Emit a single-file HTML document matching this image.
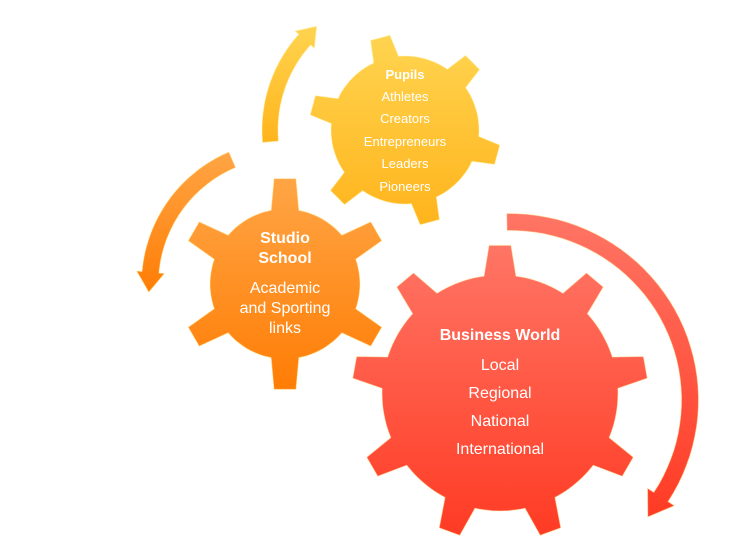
<!DOCTYPE html>
<html><head><meta charset="utf-8"><style>
html,body{margin:0;padding:0;background:#fff;}
svg{display:block;}
text{font-family:"Liberation Sans",sans-serif;fill:#fff;text-anchor:middle;}
</style></head><body>
<svg id="s" width="756" height="549" viewBox="0 0 756 549" xmlns="http://www.w3.org/2000/svg">
<defs>
<linearGradient id="gr" x1="0" y1="0" x2="0" y2="1"><stop offset="0" stop-color="#ff7565"/><stop offset="1" stop-color="#ff3b24"/></linearGradient>
<linearGradient id="go" x1="0" y1="0" x2="0" y2="1"><stop offset="0" stop-color="#ffa545"/><stop offset="1" stop-color="#ff7d05"/></linearGradient>
<linearGradient id="gy" x1="0" y1="0" x2="0" y2="1"><stop offset="0" stop-color="#ffd450"/><stop offset="1" stop-color="#ffb41c"/></linearGradient>
</defs>
<g id="g"></g>
<text x="405" y="79" font-size="13" font-weight="bold">Pupils</text>
<text x="405" y="101" font-size="13">Athletes</text>
<text x="405" y="123" font-size="13">Creators</text>
<text x="405" y="146" font-size="13">Entrepreneurs</text>
<text x="405" y="168" font-size="13">Leaders</text>
<text x="405" y="191" font-size="13">Pioneers</text>
<text x="285" y="243" font-size="16" font-weight="bold">Studio</text>
<text x="285" y="263" font-size="16" font-weight="bold">School</text>
<text x="285" y="293" font-size="16">Academic</text>
<text x="285" y="313" font-size="16">and Sporting</text>
<text x="285" y="333" font-size="16">links</text>
<text x="500" y="340" font-size="16" font-weight="bold">Business World</text>
<text x="500" y="370" font-size="16">Local</text>
<text x="500" y="398" font-size="16">Regional</text>
<text x="500" y="426" font-size="16">National</text>
<text x="500" y="454" font-size="16">International</text>
</svg>
<script>
var g=document.getElementById('g'),NS='http://www.w3.org/2000/svg';
function add(d,fill){var p=document.createElementNS(NS,'path');p.setAttribute('d',d);p.setAttribute('fill',fill);p.setAttribute('stroke','#fff3b0');p.setAttribute('stroke-opacity','0.5');p.setAttribute('stroke-width','1');g.appendChild(p);}
function gear(cx,cy,r,R,n,off,bh,th,fill){
 var pts=[],step=360/n;
 for(var i=0;i<n;i++){
  var a=(off+i*step)*Math.PI/180;
  var ba=bh/r, ta=th/R;
  var nx=(off+(i+1)*step)*Math.PI/180;
  pts.push([cx+r*Math.cos(a-ba),cy+r*Math.sin(a-ba)]);
  pts.push([cx+R*Math.cos(a-ta),cy+R*Math.sin(a-ta)]);
  pts.push([cx+R*Math.cos(a+ta),cy+R*Math.sin(a+ta)]);
  pts.push([cx+r*Math.cos(a+ba),cy+r*Math.sin(a+ba)]);
  var s=a+ba,e=nx-ba;
  for(var k=1;k<12;k++){var t=s+(e-s)*k/12;pts.push([cx+r*Math.cos(t),cy+r*Math.sin(t)]);}
 }
 add('M'+pts.map(function(p){return p[0].toFixed(1)+','+p[1].toFixed(1)}).join('L')+'Z',fill);
}
function arc(cx,cy,rx,ry,a0,a1,w,hw,hl,fill){
 var pts=[],N=40,i,t;
 function P(rr,ang){var A=ang*Math.PI/180;return [cx+(rx+rr)*Math.cos(A),cy+(ry+rr)*Math.sin(A)];}
 for(i=0;i<=N;i++){t=a0+(a1-a0)*i/N;pts.push(P(w/2,t));}
 var dir=a1>a0?1:-1;
 var A=a1*Math.PI/180;
 pts.push(P(hw,a1));
 var mid=P(0,a1),tx=-Math.sin(A)*rx*dir,ty=Math.cos(A)*ry*dir,l=Math.hypot(tx,ty);
 pts.push([mid[0]+tx/l*hl,mid[1]+ty/l*hl]);
 pts.push(P(-hw,a1));
 for(i=N;i>=0;i--){t=a0+(a1-a0)*i/N;pts.push(P(-w/2,t));}
 add('M'+pts.map(function(p){return p[0].toFixed(1)+','+p[1].toFixed(1)}).join('L')+'Z',fill);
}
arc(510,400,180,178,-91,33,17,16,24,'url(#gr)');
arc(285,284,135,135,-113,-175,17,14,20,'url(#go)');
arc(405,130,135,135,175,222,16,13,18,'url(#gy)');
gear(405,130,74,96,6,-105,13,10,'url(#gy)');
gear(285,284,75,106,6,-90,14,11,'url(#go)');
gear(500,393,118,148,9,-90,16,11,'url(#gr)');
</script>
</body></html>
